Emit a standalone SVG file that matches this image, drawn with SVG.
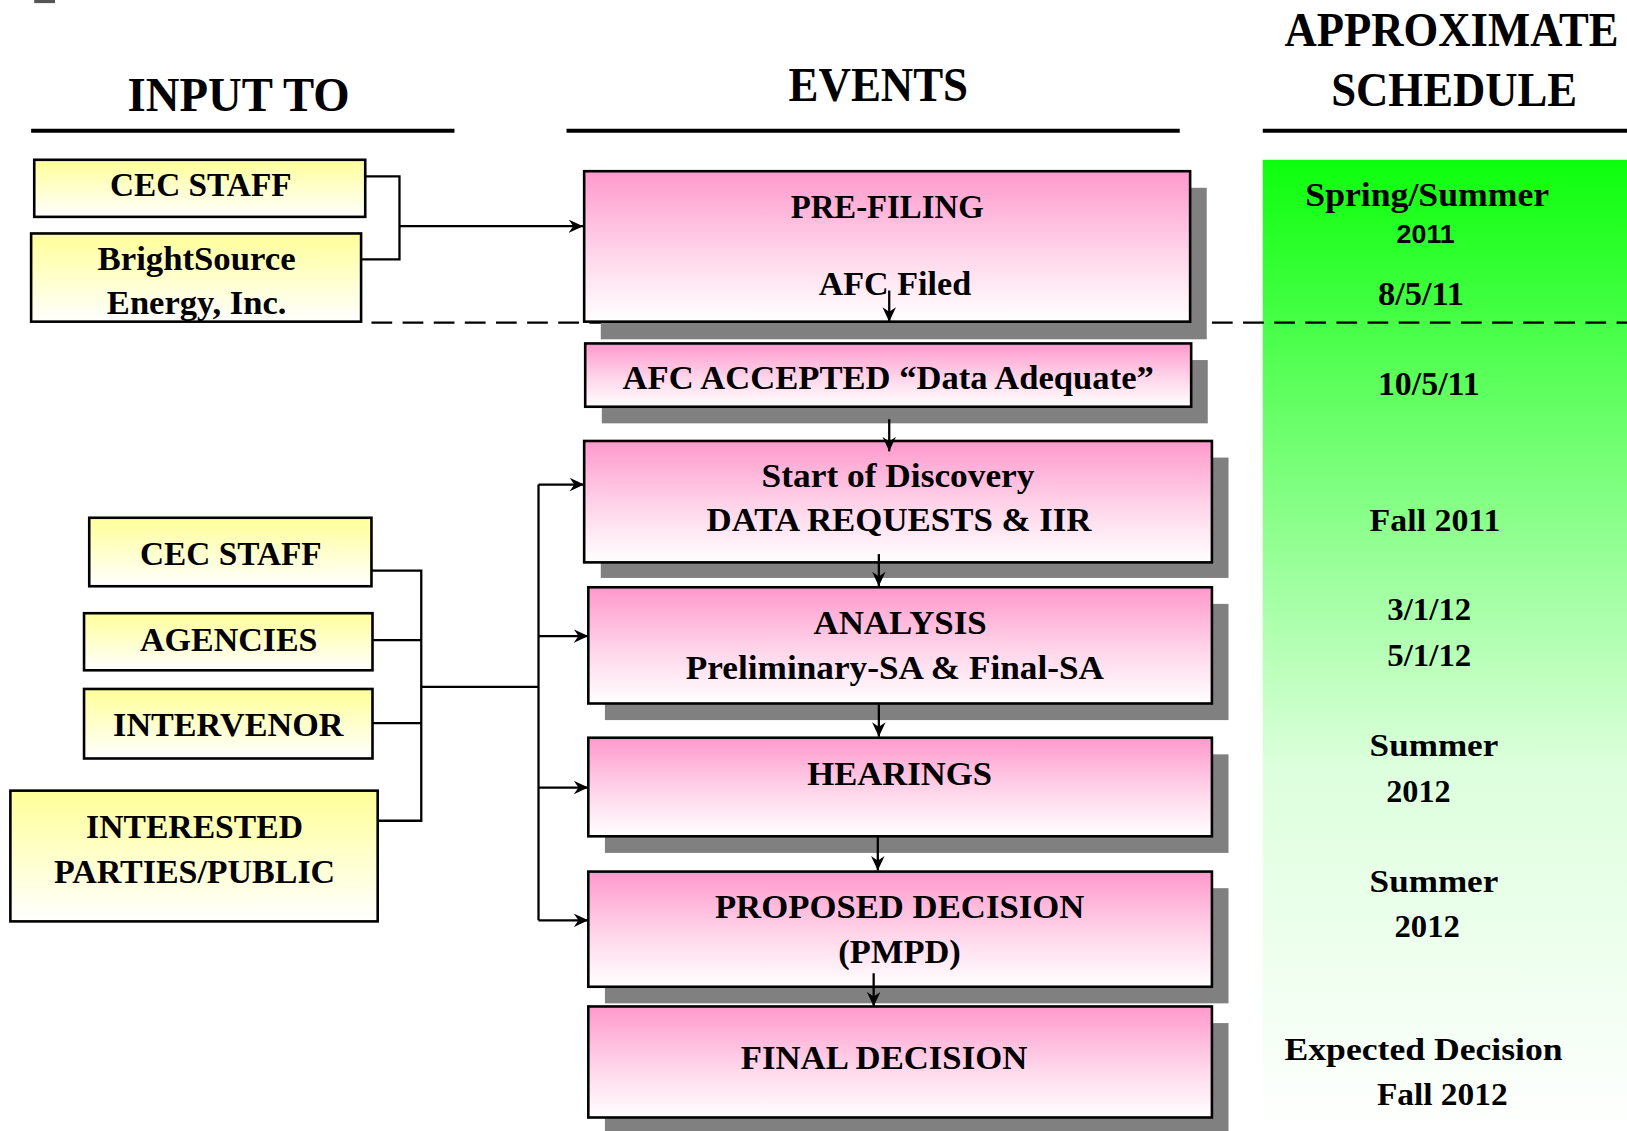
<svg xmlns="http://www.w3.org/2000/svg" width="1627" height="1131" viewBox="0 0 1627 1131">
<defs>
<linearGradient id="gYellow" x1="0" y1="0" x2="0" y2="1">
<stop offset="0" stop-color="#FFFF99"/><stop offset="1" stop-color="#FFFFFF"/>
</linearGradient>
<linearGradient id="gPink" x1="0" y1="0" x2="0" y2="1">
<stop offset="0" stop-color="#FF99CC"/><stop offset="0.55" stop-color="#FFD6EA"/><stop offset="1" stop-color="#FFFFFF"/>
</linearGradient>
<linearGradient id="gGreen" x1="0" y1="0" x2="0" y2="1">
<stop offset="0" stop-color="#0DFF0D"/><stop offset="0.3" stop-color="#74FF74"/><stop offset="0.62" stop-color="#DCFFDC"/><stop offset="1" stop-color="#FFFFFF"/>
</linearGradient>
<marker id="arr" markerUnits="userSpaceOnUse" markerWidth="15" markerHeight="13" refX="14" refY="6.5" orient="auto">
<path d="M0,0 L14,6.5 L0,13 L4.5,6.5 z" fill="#000"/>
</marker>
<style>
.t{font-family:"Liberation Serif","Times New Roman",serif;font-weight:bold;fill:#000}
.h{font-size:46px}
.n{font-size:32px}
.s{font-size:30px}
.sans{font-family:"Liberation Sans",Arial,sans-serif;font-weight:bold;font-size:25px;fill:#000}
.yb{fill:url(#gYellow);stroke:#000;stroke-width:2.5}
.pb{fill:url(#gPink);stroke:#000;stroke-width:2.5}
.sh{fill:#808080}
.c{fill:none;stroke:#000;stroke-width:2.2}
.hl{stroke:#000;stroke-width:4}
</style>
</defs>
<rect width="1627" height="1131" fill="#FFFFFF"/>
<g transform="scale(1.0376)">
<rect x="33" y="0" width="20" height="3" fill="#555"/>
<g id="schedule-panel">
<rect x="1217" y="154" width="360" height="940" fill="url(#gGreen)"/>
</g>
<g id="headers">
<text class="t h" x="123" y="107" textLength="214" lengthAdjust="spacingAndGlyphs">INPUT TO</text>
<line class="hl" x1="30" y1="126" x2="438" y2="126"/>
<text class="t h" x="760" y="97" textLength="173" lengthAdjust="spacingAndGlyphs">EVENTS</text>
<line class="hl" x1="546" y1="126" x2="1137" y2="126"/>
<text class="t h" x="1238" y="44" textLength="322" lengthAdjust="spacingAndGlyphs">APPROXIMATE</text>
<text class="t h" x="1283" y="102" textLength="237" lengthAdjust="spacingAndGlyphs">SCHEDULE</text>
<line class="hl" x1="1217" y1="126" x2="1577" y2="126"/>
</g>
<g id="dashed-divider">
<line x1="358" y1="311" x2="1577" y2="311" stroke="#000" stroke-width="2.2" stroke-dasharray="20,10"/>
</g>
<g id="in-cec-staff-1">
<rect class="yb" x="33" y="154" width="319" height="55"/>
<text class="t n" x="106" y="189" textLength="175" lengthAdjust="spacingAndGlyphs">CEC STAFF</text>
</g>
<g id="in-brightsource">
<rect class="yb" x="30" y="225" width="318" height="85"/>
<text class="t n" x="94" y="260" textLength="191" lengthAdjust="spacingAndGlyphs">BrightSource</text>
<text class="t n" x="103" y="303" textLength="173" lengthAdjust="spacingAndGlyphs">Energy, Inc.</text>
</g>
<g id="in-cec-staff-2">
<rect class="yb" x="86" y="499" width="272" height="66"/>
<text class="t n" x="135" y="545" textLength="175" lengthAdjust="spacingAndGlyphs">CEC STAFF</text>
</g>
<g id="in-agencies">
<rect class="yb" x="81" y="591" width="278" height="55"/>
<text class="t n" x="135" y="627" textLength="171" lengthAdjust="spacingAndGlyphs">AGENCIES</text>
</g>
<g id="in-intervenor">
<rect class="yb" x="81" y="664" width="278" height="67"/>
<text class="t n" x="109" y="709" textLength="222" lengthAdjust="spacingAndGlyphs">INTERVENOR</text>
</g>
<g id="in-interested">
<rect class="yb" x="10" y="762" width="354" height="126"/>
<text class="t n" x="83" y="808" textLength="209" lengthAdjust="spacingAndGlyphs">INTERESTED</text>
<text class="t n" x="52" y="851" textLength="271" lengthAdjust="spacingAndGlyphs">PARTIES/PUBLIC</text>
</g>
<g id="ev-prefiling">
<rect class="sh" x="579" y="181" width="584" height="146"/>
<rect class="pb" x="563" y="165" width="584" height="145"/>
<text class="t n" x="762" y="210" textLength="186" lengthAdjust="spacingAndGlyphs">PRE-FILING</text>
<text class="t n" x="789" y="284" textLength="147" lengthAdjust="spacingAndGlyphs">AFC Filed</text>
</g>
<g id="ev-accepted">
<rect class="sh" x="580" y="347" width="584" height="61"/>
<rect class="pb" x="564" y="331" width="584" height="61"/>
<text class="t n" x="600" y="375" textLength="512" lengthAdjust="spacingAndGlyphs">AFC ACCEPTED “Data Adequate”</text>
</g>
<g id="ev-discovery">
<rect class="sh" x="579" y="441" width="605" height="116"/>
<rect class="pb" x="563" y="425" width="605" height="117"/>
<text class="t n" x="734" y="469" textLength="263" lengthAdjust="spacingAndGlyphs">Start of Discovery</text>
<text class="t n" x="681" y="512" textLength="371" lengthAdjust="spacingAndGlyphs">DATA REQUESTS &amp; IIR</text>
</g>
<g id="ev-analysis">
<rect class="sh" x="583" y="582" width="601" height="112"/>
<rect class="pb" x="567" y="566" width="601" height="112"/>
<text class="t n" x="784" y="611" textLength="167" lengthAdjust="spacingAndGlyphs">ANALYSIS</text>
<text class="t n" x="661" y="654" textLength="403" lengthAdjust="spacingAndGlyphs">Preliminary-SA &amp; Final-SA</text>
</g>
<g id="ev-hearings">
<rect class="sh" x="583" y="727" width="601" height="95"/>
<rect class="pb" x="567" y="711" width="601" height="95"/>
<text class="t n" x="778" y="757" textLength="178" lengthAdjust="spacingAndGlyphs">HEARINGS</text>
</g>
<g id="ev-proposed">
<rect class="sh" x="583" y="856" width="601" height="111"/>
<rect class="pb" x="567" y="840" width="601" height="111"/>
<text class="t n" x="689" y="885" textLength="356" lengthAdjust="spacingAndGlyphs">PROPOSED DECISION</text>
<text class="t n" x="808" y="928" textLength="118" lengthAdjust="spacingAndGlyphs">(PMPD)</text>
</g>
<g id="ev-final">
<rect class="sh" x="583" y="986" width="601" height="110"/>
<rect class="pb" x="567" y="970" width="601" height="107"/>
<text class="t n" x="714" y="1030" textLength="276" lengthAdjust="spacingAndGlyphs">FINAL DECISION</text>
</g>
<g id="schedule-labels">
<text class="t n" x="1258" y="199" textLength="235" lengthAdjust="spacingAndGlyphs">Spring/Summer</text>
<text class="sans" x="1346" y="234" textLength="56" lengthAdjust="spacingAndGlyphs">2011</text>
<text class="t n" x="1328" y="294" textLength="83" lengthAdjust="spacingAndGlyphs">8/5/11</text>
<text class="t n" x="1328" y="381" textLength="98" lengthAdjust="spacingAndGlyphs">10/5/11</text>
<text class="t s" x="1320" y="512" textLength="126" lengthAdjust="spacingAndGlyphs">Fall 2011</text>
<text class="t s" x="1337" y="598" textLength="81" lengthAdjust="spacingAndGlyphs">3/1/12</text>
<text class="t s" x="1337" y="642" textLength="81" lengthAdjust="spacingAndGlyphs">5/1/12</text>
<text class="t s" x="1320" y="729" textLength="124" lengthAdjust="spacingAndGlyphs">Summer</text>
<text class="t s" x="1336" y="773" textLength="62" lengthAdjust="spacingAndGlyphs">2012</text>
<text class="t s" x="1320" y="860" textLength="124" lengthAdjust="spacingAndGlyphs">Summer</text>
<text class="t s" x="1344" y="903" textLength="63" lengthAdjust="spacingAndGlyphs">2012</text>
<text class="t s" x="1238" y="1022" textLength="268" lengthAdjust="spacingAndGlyphs">Expected Decision</text>
<text class="t s" x="1327" y="1065" textLength="126" lengthAdjust="spacingAndGlyphs">Fall 2012</text>
</g>
<g id="connectors">
<path class="c" d="M352,170 H385 V250 H348"/>
<path class="c" d="M385,218 H562" marker-end="url(#arr)"/>
<path class="c" d="M857,280 V310" marker-end="url(#arr)"/>
<path class="c" d="M857,404 V435" marker-end="url(#arr)"/>
<path class="c" d="M847,534 V565" marker-end="url(#arr)"/>
<path class="c" d="M847,678 V710" marker-end="url(#arr)"/>
<path class="c" d="M846,806 V839" marker-end="url(#arr)"/>
<path class="c" d="M842,938 V970" marker-end="url(#arr)"/>
<path class="c" d="M358,550 H406 V791 H364"/>
<path class="c" d="M359,617 H406"/>
<path class="c" d="M359,697 H406"/>
<path class="c" d="M406,662 H519"/>
<path class="c" d="M519,467 V887"/>
<path class="c" d="M519,467 H563" marker-end="url(#arr)"/>
<path class="c" d="M519,613 H567" marker-end="url(#arr)"/>
<path class="c" d="M519,759 H567" marker-end="url(#arr)"/>
<path class="c" d="M519,887 H567" marker-end="url(#arr)"/>
</g>
</g>
</svg>
